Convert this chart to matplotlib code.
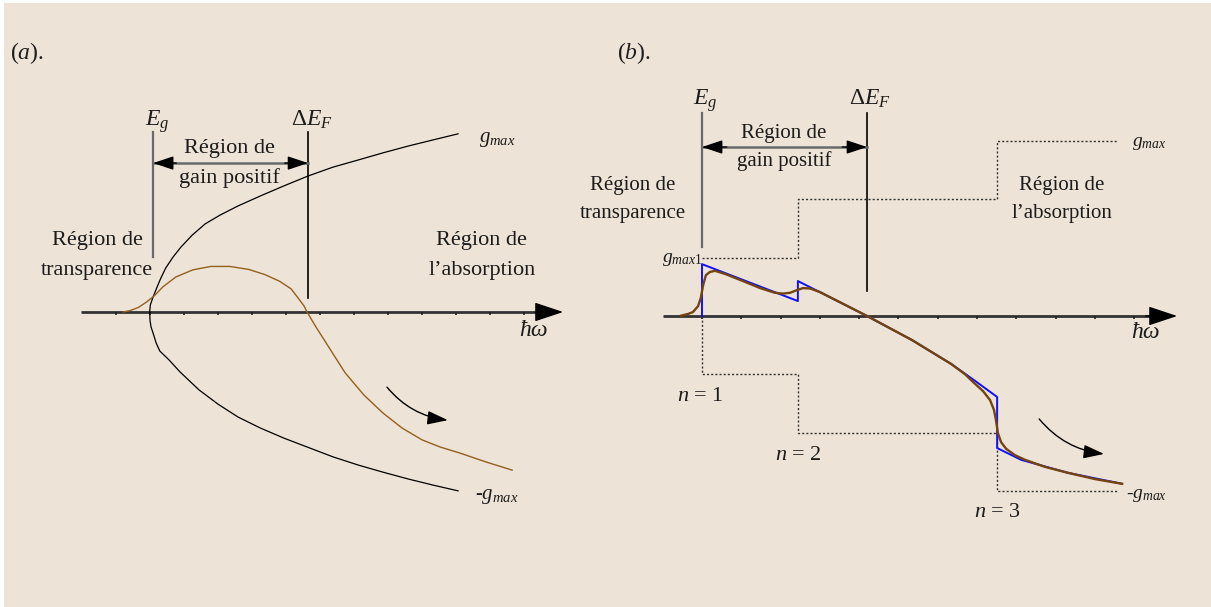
import matplotlib
matplotlib.use("Agg")
import matplotlib.pyplot as plt
from matplotlib.patches import Rectangle

plt.rcParams["font.family"] = ["Liberation Serif", "DejaVu Serif"]
plt.rcParams["mathtext.fontset"] = "custom"
plt.rcParams["mathtext.rm"] = "Liberation Serif"
plt.rcParams["mathtext.it"] = "Liberation Serif:italic"
plt.rcParams["mathtext.bf"] = "Liberation Serif:bold"

# ---- panel (a): parabolic band, +/- g_max envelope and gain curve ----
gmax_up_x = [-0.01, 0.01, 0.09, 0.21, 0.32, 0.46, 0.68, 0.91, 1.24, 1.62, 2.06,
             2.59, 3.24, 3.94, 4.65, 5.38, 6.12, 6.85, 7.59, 8.32, 9.06]
gmax_up_y = [0.0, 0.21, 0.44, 0.74, 1.00, 1.29, 1.62, 1.91, 2.26, 2.59, 2.85,
             3.12, 3.41, 3.71, 4.00, 4.26, 4.47, 4.68, 4.88, 5.06, 5.24]
gmax_lo_x = [-0.01, 0.0, 0.03, 0.09, 0.18, 0.29, 0.56, 0.88, 1.44, 2.0, 2.59,
             3.24, 3.94, 4.62, 5.38, 6.12, 6.85, 7.59, 8.32, 9.06]
gmax_lo_y = [0.0, -0.24, -0.44, -0.62, -0.91, -1.15, -1.41, -1.76, -2.29, -2.71,
             -3.09, -3.41, -3.71, -3.97, -4.26, -4.50, -4.71, -4.91, -5.09, -5.26]
gain_a_x = [-0.79, -0.59, -0.35, -0.12, 0.12, 0.38, 0.76, 1.26, 1.79, 2.35, 2.91,
            3.38, 3.82, 4.15, 4.38, 4.53, 4.62, 4.88, 5.18, 5.74, 6.29, 6.85,
            7.41, 8.0, 8.53, 9.12, 9.88, 10.65]
gain_a_y = [0.0, 0.04, 0.13, 0.28, 0.47, 0.74, 1.03, 1.24, 1.34, 1.34, 1.25,
            1.10, 0.90, 0.68, 0.38, 0.18, 0.0, -0.44, -0.91, -1.79, -2.44, -2.97,
            -3.41, -3.76, -3.97, -4.15, -4.41, -4.65]
Eg_a, dEF_a = 0.09, 4.65
ticks_a = list(range(-1, 12))

# ---- panel (b): quantum well, step density of states ----
steps_x = [0.0, 2.44, 7.51, 10.56]
steps_g = [1.48, 2.97, 4.45]
ideal_b_x = [0.0, 0.0, 2.44, 2.44, 4.2, 5.34, 6.34, 6.92, 7.51, 7.51, 8.12, 9.31, 10.69]
ideal_b_y = [0.0, 1.32, 0.38, 0.89, 0.0, -0.61, -1.22, -1.63, -2.06, -3.36,
             -3.66, -3.99, -4.27]
gain_b_x = [-0.53, -0.36, -0.23, -0.10, -0.03, 0.03, 0.10, 0.20, 0.33, 0.59, 1.04,
            1.48, 1.86, 2.06, 2.24, 2.42, 2.57, 2.75, 3.00, 4.20, 5.34, 6.34,
            6.69, 6.92, 7.15, 7.33, 7.43, 7.48, 7.53, 7.61, 7.74, 7.96, 8.22,
            8.73, 9.31, 10.0, 10.69]
gain_b_y = [0.01, 0.05, 0.10, 0.25, 0.46, 0.79, 1.04, 1.12, 1.15, 1.07, 0.89,
            0.71, 0.59, 0.57, 0.59, 0.66, 0.71, 0.70, 0.61, 0.0, -0.61, -1.22,
            -1.48, -1.70, -1.91, -2.14, -2.39, -2.65, -2.98, -3.21, -3.38, -3.54,
            -3.66, -3.84, -3.99, -4.15, -4.27]
Eg_b, dEF_b = 0.0, 4.2
ticks_b = list(range(0, 12))
n_labels = ["$n$ = 1", "$n$ = 2", "$n$ = 3"]

gain_region = ["Région de", "gain positif"]
transp_region = ["Région de", "transparence"]
absorp_region = ["Région de", "l\u2019absorption"]

BG = "#ede3d6"
INK = "#1c1c1c"
BROWN_A = "#92601f"
BROWN_B = "#744410"

fig = plt.figure(figsize=(12.11, 6.07), dpi=100)
fig.patch.set_facecolor("white")
fig.patches.append(Rectangle((4 / 1211, 0), 1, 1 - 3 / 607, transform=fig.transFigure,
                             facecolor=BG, edgecolor="none", zorder=-10))

ax_a = fig.add_axes([0, 0, 600 / 1211, 1])
ax_b = fig.add_axes([600 / 1211, 0, 611 / 1211, 1])
ax_a.set_xlim(-4.412, 13.235)
ax_a.set_ylim(-8.676, 9.176)
ax_b.set_xlim(-2.595, 12.952)
ax_b.set_ylim(-7.405, 8.041)
for ax in (ax_a, ax_b):
    ax.axis("off")
    ax.patch.set_alpha(0)


def energy_axis(ax, x0, x1, ticks, label_xy):
    # dark shaft, black arrow head on top
    ax.plot([x0, x1 - 0.4], [0, 0], color="#333333", lw=2, solid_capstyle="butt", zorder=2)
    ax.annotate("", xy=(x1, 0), xytext=(x1 - 0.8, 0),
                arrowprops=dict(arrowstyle="-|>,head_length=0.9,head_width=0.3",
                                lw=1, color="black", mutation_scale=20,
                                shrinkA=0, shrinkB=0), zorder=3)
    ax.vlines(ticks, -0.08, 0, color="#222222", lw=1.2, zorder=2)
    ax.text(*label_xy, "ħω", fontsize=17, fontstyle="italic", color=INK,
            ha="left", va="center")


def markers(ax, eg, def_, top, eg_bottom, ef_bottom, arrow_y):
    ax.plot([eg, eg], [eg_bottom, top], color="#6a6a6a", lw=1.6, zorder=3)
    ax.plot([def_, def_], [ef_bottom, top], color="black", lw=1.2, zorder=3)
    ax.plot([eg, def_], [arrow_y, arrow_y], color="#6a6a6a", lw=1.8, zorder=3)
    for tip, tail in ((def_, eg), (eg, def_)):
        ax.annotate("", xy=(tip, arrow_y), xytext=(tip + (tail - tip) * 0.15, arrow_y),
                    arrowprops=dict(arrowstyle="-|>,head_length=0.9,head_width=0.3",
                                    lw=1, color="black", mutation_scale=14,
                                    shrinkA=0, shrinkB=0), zorder=4)


def two_lines(ax, x, y1, y2, lines, fs):
    ax.text(x, y1, lines[0], fontsize=fs, color=INK, ha="center", va="baseline")
    ax.text(x, y2, lines[1], fontsize=fs, color=INK, ha="center", va="baseline")


# panel (a)
energy_axis(ax_a, -2.03, 12.15, ticks_a, (10.85, -0.53))
ax_a.plot(gmax_up_x, gmax_up_y, color="black", lw=0.9)
ax_a.plot(gmax_lo_x, gmax_lo_y, color="black", lw=0.9)
ax_a.plot(gain_a_x, gain_a_y, color=BROWN_A, lw=1.0)
markers(ax_a, Eg_a, dEF_a, 5.29, 1.62, 0.41, 4.38)
ax_a.text(-0.15, 5.47, "$E_{g}$", fontsize=17, color=INK, ha="left", va="baseline")
ax_a.text(4.15, 5.47, r"$\Delta E_{F}$", fontsize=17, color=INK, ha="left", va="baseline")
two_lines(ax_a, 2.35, 4.68, 3.79, gain_region, 16)
two_lines(ax_a, -1.56, 1.97, 1.09, transp_region, 16)
two_lines(ax_a, 9.76, 1.97, 1.09, absorp_region, 16)
ax_a.text(9.68, 5.06, "$g_{max}$", fontsize=15, color=INK, ha="left", va="center")
ax_a.text(9.56, -5.44, "-$g_{max}$", fontsize=15, color=INK, ha="left", va="center")
ax_a.text(-4.13, 7.62, "($a$).", fontsize=17, color=INK, ha="left", va="center")
ax_a.annotate("", xy=(8.76, -3.18), xytext=(6.97, -2.21),
              arrowprops=dict(arrowstyle="-|>,head_length=0.9,head_width=0.3",
                              connectionstyle="arc3,rad=0.2", lw=1.0, color="black",
                              mutation_scale=14, shrinkA=0, shrinkB=0))

# panel (b)
energy_axis(ax_b, -0.99, 12.09, ticks_b, (10.92, -0.43))
ax_b.plot(steps_x, steps_g + steps_g[-1:], drawstyle="steps-post", color="#333333",
          lw=1.0, ls=(0, (1.5, 1.5)))
ax_b.plot([0.0] + steps_x, [0.0] + [-g for g in steps_g] + [-steps_g[-1]],
          drawstyle="steps-post", color="#333333", lw=1.0, ls=(0, (1.5, 1.5)))
ax_b.plot(ideal_b_x, ideal_b_y, color="#1010ff", lw=1.4, zorder=4)
ax_b.plot(gain_b_x, gain_b_y, color=BROWN_B, lw=1.7, zorder=5)
markers(ax_b, Eg_b, dEF_b, 5.17, 1.76, 0.64, 4.30)
ax_b.text(-0.23, 5.37, "$E_{g}$", fontsize=17, color=INK, ha="left", va="baseline")
ax_b.text(3.74, 5.37, r"$\Delta E_{F}$", fontsize=17, color=INK, ha="left", va="baseline")
two_lines(ax_b, 2.09, 4.53, 3.82, gain_region, 15)
two_lines(ax_b, -1.76, 3.21, 2.49, transp_region, 15)
two_lines(ax_b, 9.16, 3.21, 2.49, absorp_region, 15)
ax_b.text(10.94, 4.40, "$g_{max}$", fontsize=14, color=INK, ha="left", va="center")
ax_b.text(-1.02, 1.45, "$g_{max1}$", fontsize=14, color=INK, ha="left", va="center")
ax_b.text(10.79, -4.58, "-$g_{max}$", fontsize=14, color=INK, ha="left", va="center")
ax_b.text(-2.16, 6.69, "($b$).", fontsize=17, color=INK, ha="left", va="center")
for (nx, ny), lab in zip([(-0.05, -2.04), (2.44, -3.56), (7.51, -5.01)], n_labels):
    ax_b.text(nx, ny, lab, fontsize=16, color=INK, ha="center", va="center")
ax_b.annotate("", xy=(10.23, -3.51), xytext=(8.58, -2.62),
              arrowprops=dict(arrowstyle="-|>,head_length=0.9,head_width=0.3",
                              connectionstyle="arc3,rad=0.2", lw=1.0, color="black",
                              mutation_scale=14, shrinkA=0, shrinkB=0))

fig.savefig("out.png", dpi=100, facecolor=fig.get_facecolor())
